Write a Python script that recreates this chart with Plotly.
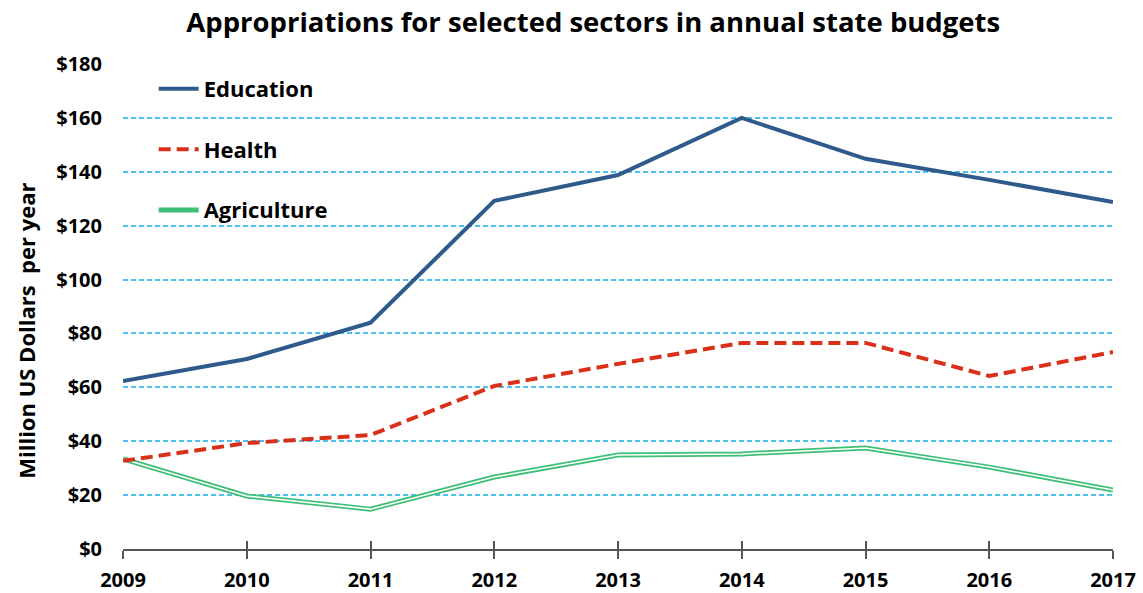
import plotly.graph_objects as go

years = [2009, 2010, 2011, 2012, 2013, 2014, 2015, 2016, 2017]
education = [62.3, 70.5, 84, 129.2, 138.8, 160, 144.8, 137, 128.8]
health = [32.7, 39.3, 42.3, 60.5, 68.7, 76.5, 76.5, 64.2, 73.1]
agriculture = [33.4, 19.7, 14.8, 26.7, 34.9, 35.3, 37.5, 30.4, 21.9]
ytick_vals = [0, 20, 40, 60, 80, 100, 120, 140, 160, 180]
ytick_text = ["$" + str(v) for v in ytick_vals]

FONT = "Open Sans"

fig = go.Figure()
fig.add_trace(go.Scatter(x=years, y=agriculture, mode="lines", name="<b>Agriculture</b>",
                         line=dict(color="#3dbf75", width=5), legendgroup="a",
                         legendrank=3))
fig.add_trace(go.Scatter(x=years, y=agriculture, mode="lines", showlegend=False,
                         line=dict(color="white", width=1.5), legendgroup="a",
                         hoverinfo="skip"))
fig.add_trace(go.Scatter(x=years, y=health, mode="lines", name="<b>Health</b>",
                         line=dict(color="#d9301a", width=4, dash="12px,6px"),
                         legendgroup="h", legendrank=2))
fig.add_trace(go.Scatter(x=years, y=education, mode="lines", name="<b>Education</b>",
                         line=dict(color="#2f5b8c", width=4), legendgroup="e",
                         legendrank=1))

fig.update_layout(
    width=1143, height=593,
    margin=dict(l=123, r=30, t=64, b=44, autoexpand=False),
    paper_bgcolor="white", plot_bgcolor="white",
    font=dict(family=FONT, color="black"),
    title=dict(text="<b>Appropriations for selected sectors in annual state budgets</b>",
               x=0.519, xanchor="center", y=0.963, yanchor="middle",
               font=dict(size=27.5, family=FONT, color="black")),
    showlegend=True,
    legend=dict(x=0.031, y=0.992, xanchor="left", yanchor="top",
                bgcolor="rgba(0,0,0,0)", font=dict(size=22, family=FONT, color="black"),
                tracegroupgap=29, traceorder="grouped", itemwidth=40),
    xaxis=dict(range=[2009, 2017], tickvals=years, ticktext=[f"<b>{y}</b>" for y in years],
               showgrid=False, zeroline=False, showline=True, linecolor="#555555", linewidth=1.5,
               ticks="outside", ticklen=8, tickcolor="#555555", tickwidth=1.5,
               ticklabelstandoff=4, automargin=False,
               tickfont=dict(size=20, family=FONT, color="black")),
    xaxis2=dict(range=[2009, 2017], tickvals=years, overlaying="x", matches="x",
                showticklabels=False, showgrid=False, zeroline=False, showline=False,
                ticks="inside", ticklen=8, tickcolor="#555555", tickwidth=1.5, automargin=False),
    yaxis=dict(range=[0, 180], tickvals=ytick_vals, ticktext=[f"<b>{t}</b>" for t in ytick_text],
               showgrid=True, gridcolor="#4dbff0", griddash="5px,3px", gridwidth=1.5,
               zeroline=False, showline=False, ticks="", ticklabelstandoff=20, automargin=False,
               tickfont=dict(size=20, family=FONT, color="black")),
    annotations=[dict(text="<b>Million US Dollars  per year</b>", xref="paper", yref="paper",
                      x=-0.098, y=0.45, xanchor="center", yanchor="middle", textangle=-90,
                      showarrow=False, font=dict(size=22, family=FONT, color="black"))],
)
# invisible trace to activate xaxis2 ticks
fig.add_trace(go.Scatter(x=[2009], y=[None], xaxis="x2", showlegend=False, hoverinfo="skip"))

fig.write_html("out.html", config={"displayModeBar": False},
               post_script="document.body.style.margin='0';document.body.style.overflow='hidden';")
